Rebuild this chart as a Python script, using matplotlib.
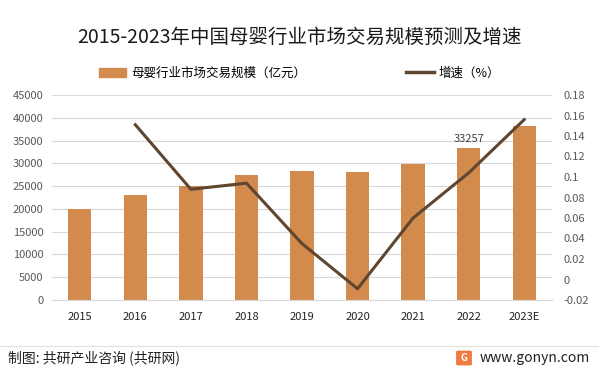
import matplotlib
matplotlib.use("Agg")
import matplotlib.pyplot as plt
import matplotlib.patches as mpatches

plt.rcParams['font.family'] = ['Noto Sans CJK SC', 'DejaVu Sans']

categories = ["2015", "2016", "2017", "2018", "2019", "2020", "2021", "2022", "2023E"]
market_size = [20000, 23050, 25000, 27450, 28300, 28100, 29900, 33257, 38200]
growth = [None, 0.151, 0.088, 0.094, 0.035, -0.009, 0.060, 0.104, 0.156]
left_ticks = [0, 5000, 10000, 15000, 20000, 25000, 30000, 35000, 40000, 45000]
right_ticks = [-0.02, 0, 0.02, 0.04, 0.06, 0.08, 0.1, 0.12, 0.14, 0.16, 0.18]

bar_color = "#D38B4D"
line_color = "#5E4630"

fig = plt.figure(figsize=(5.99, 3.73), dpi=100)
ax = fig.add_axes([52/599, 1-300/373, 500/599, 205/373])
x = list(range(len(categories)))
ax.bar(x, market_size, width=0.42, color=bar_color, zorder=2)
ax.set_xlim(-0.5, len(categories)-0.5)
ax.set_ylim(0, 45000)
ax.set_yticks(left_ticks)
ax.set_yticklabels([str(t) for t in left_ticks])
ax.set_xticks(x)
ax.set_xticklabels(categories)
ax.grid(axis='y', color="#D9D9D9", linewidth=0.8, zorder=0)
ax.set_axisbelow(True)
for s in ax.spines.values():
    s.set_visible(False)
ax.spines['bottom'].set_visible(True)
ax.spines['bottom'].set_color("#D9D9D9")
ax.tick_params(axis='both', length=0, labelsize=8)
ax.tick_params(axis='y', colors="#595959", pad=6)
ax.tick_params(axis='x', colors="#222222", pad=9)

i22 = categories.index("2022")
ax.text(i22, market_size[i22] + 900, f"{market_size[i22]}", ha='center', va='bottom',
        fontsize=8, color="#404040")

ax2 = ax.twinx()
gx = [i for i, g in zip(x, growth) if g is not None]
gy = [g for g in growth if g is not None]
ax2.plot(gx, gy, color=line_color, linewidth=2.2, zorder=3)
ax2.set_ylim(-0.02, 0.18)
ax2.set_yticks(right_ticks)
ax2.set_yticklabels(["-0.02", "0", "0.02", "0.04", "0.06", "0.08", "0.1", "0.12", "0.14", "0.16", "0.18"])
for s in ax2.spines.values():
    s.set_visible(False)
ax2.tick_params(axis='y', length=0, labelsize=8, colors="#595959", pad=8)

fig.text(0.5, 1-37/373, "2015-2023年中国母婴行业市场交易规模预测及增速", ha='center', va='center',
         fontsize=14, color="#1a1a1a")

handles = [mpatches.Patch(color=bar_color, label="母婴行业市场交易规模（亿元）"),
           plt.Line2D([], [], color=line_color, linewidth=2.5, label="增速（%）")]
fig.legend(handles=handles, loc='center', bbox_to_anchor=(0.5, 1-73/373), ncol=2, frameon=False,
           fontsize=9, handlelength=2.2, columnspacing=8, handletextpad=0.4)

fig.add_artist(plt.Line2D([0, 1], [1-346/373, 1-346/373], color="#E0E0E0", linewidth=0.8))
fig.text(8/599, 1-358/373, "制图: 共研产业咨询 (共研网)", ha='left', va='center', fontsize=10, color="#222222")
fig.text(590/599, 1-358/373, "www.gonyn.com", ha='right', va='center', fontsize=10, color="#222222")
fig.add_artist(mpatches.FancyBboxPatch((458/599, 1-364/373), 12/599, 12/373,
                                       boxstyle="round,pad=0.002", color="#F07B3F",
                                       transform=fig.transFigure))
fig.text(464/599, 1-358/373, "G", ha='center', va='center', fontsize=7, color="white", fontweight='bold')

fig.savefig("out.png", dpi=100, facecolor="white")
